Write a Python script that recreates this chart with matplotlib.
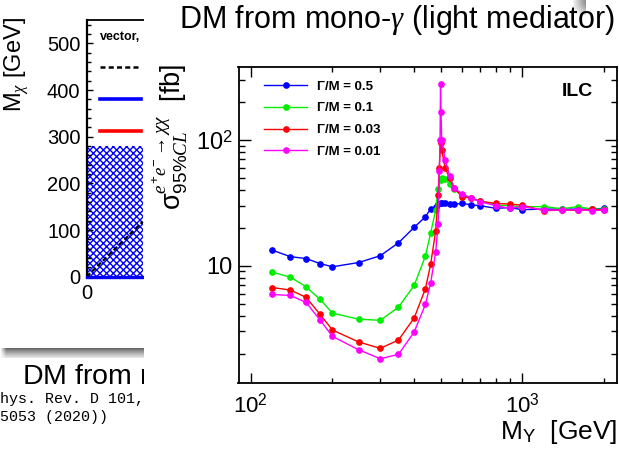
import numpy as np
import matplotlib
matplotlib.use("Agg")
import matplotlib.pyplot as plt
from matplotlib.patches import Rectangle
from matplotlib.lines import Line2D
from matplotlib.ticker import FixedLocator, FixedFormatter, NullFormatter, MultipleLocator

plt.rcParams['font.family'] = ['Liberation Sans', 'DejaVu Sans']
plt.rcParams['mathtext.fontset'] = 'custom'
plt.rcParams['mathtext.rm'] = 'Liberation Sans'
plt.rcParams['mathtext.it'] = 'Liberation Serif:italic'
plt.rcParams['mathtext.bf'] = 'Liberation Sans:bold'
plt.rcParams['hatch.color'] = '#0000ff'
plt.rcParams['hatch.linewidth'] = 1.0

# ---- cross-section limits vs mediator mass (light mediator) ----
mass_common = [120, 140, 160, 180, 200, 250, 300, 350, 400, 440, 460, 480, 490,
               500, 505, 520, 540, 560, 600, 650, 700, 800, 900, 1000, 1200,
               1400, 1600, 1800, 2000]
sigma_w050 = [13.3, 11.8, 11.4, 10.4, 9.8, 10.6, 12.0, 15.2, 20.2, 24.5, 28.4,
              29.5, 30.9, 31.7, 31.7, 31.7, 30.8, 30.8, 31.3, 30.5, 30.0, 28.6,
              29.0, 27.9, 28.2, 28.2, 28.2, 28.2, 28.6]
sigma_w010 = [8.9, 8.1, 6.8, 5.4, 4.2, 3.75, 3.68, 4.67, 6.98, 11.95, 18.3,
              27.7, 41.0, 48.0, 49.6, 49.0, 45.0, 40.5, 36.5, 34.5, 33.0, 30.4,
              29.9, 29.5, 29.5, 28.4, 29.5, 28.2, 28.2]
mass_w003 = [120, 140, 160, 180, 200, 250, 300, 350, 400, 440, 460, 480, 490,
             495, 500, 505, 520, 540, 560, 600, 650, 700, 800, 900, 1000, 1200,
             1400, 1600, 1800, 2000]
sigma_w003 = [6.7, 6.4, 5.6, 4.1, 3.08, 2.47, 2.2, 2.56, 3.84, 6.56, 10.3, 19.0,
              36.5, 60.0, 94.0, 83.0, 60.0, 49.6, 41.5, 35.4, 34.4, 32.5, 31.3,
              30.9, 30.3, 27.4, 27.7, 27.6, 28.1, 27.7]
mass_w001 = [120, 140, 160, 180, 200, 250, 300, 350, 400, 440, 460, 480, 490,
             495, 498, 500, 502, 505, 520, 540, 560, 600, 650, 700, 800, 900,
             1000, 1200, 1400, 1600, 1800, 2000]
sigma_w001 = [5.9, 5.8, 5.1, 3.7, 2.74, 2.14, 1.82, 1.97, 2.97, 4.93, 7.3, 12.9,
              21.6, 57.0, 100.0, 280.0, 168.0, 100.0, 69.0, 52.0, 41.5, 37.5,
              34.4, 32.3, 30.0, 28.6, 29.5, 27.7, 27.7, 27.9, 27.4, 27.7]
width_labels = ['Γ/M = 0.5', 'Γ/M = 0.1', 'Γ/M = 0.03', 'Γ/M = 0.01']
series_colors = ['#0000ff', '#00ee00', '#ff0000', '#ff00ff']

# ---- mass-plane panel (vector mediator) ----
excl_mass = [0, 236]
excl_mchi = [280, 280]
kin_mass = [0, 236]
kin_mchi = [0, 118]
low_mass = [0, 236]
low_mchi = [0, 0]

W, H = 619, 451
fig = plt.figure(figsize=(W / 100, H / 100), dpi=100)
fig.patch.set_facecolor('white')


def rect(x0, y0, x1, y1):
    return [x0 / W, 1 - y1 / H, (x1 - x0) / W, (y1 - y0) / H]


# ================= left panel (partly covered) =================
axl = fig.add_axes(rect(86.7, 20, 330, 276.7))
axl.set_zorder(0)
axl.fill_between(excl_mass, 0, excl_mchi, facecolor='white', edgecolor='#0000ff',
                 hatch='xxxxx', linewidth=0, zorder=1)
axl.plot(low_mass, low_mchi, color='#ff0000', lw=2.2, zorder=2,
         solid_capstyle='projecting', clip_on=False)
axl.plot(low_mass, low_mchi, color='#0000ff', lw=2.4, zorder=3, clip_on=False)
axl.plot(kin_mass, kin_mchi, color='black', lw=1.6, ls=(0, (2.2, 1.2)), zorder=4)
axl.set_xlim(0, 1025)
axl.set_ylim(0, 550)
axl.set_xticks([0])
axl.yaxis.set_major_locator(MultipleLocator(100))
axl.yaxis.set_minor_locator(MultipleLocator(20))
axl.tick_params(axis='y', which='both', direction='in', labelsize=14.5, pad=4.5)
axl.tick_params(axis='y', which='major', length=4.5, width=1.0)
axl.tick_params(axis='y', which='minor', length=3, width=1.0)
axl.tick_params(axis='x', length=0, labelsize=14.5, pad=5)
axl.spines['right'].set_visible(False)
axl.spines['left'].set_linewidth(1.6)
axl.spines['top'].set_linewidth(1.3)
axl.spines['bottom'].set_linewidth(1.0)
axl.set_ylabel('M$_{\\chi}$ [GeV]', fontsize=17)
axl.yaxis.set_label_coords((31 - 86.7) / (330 - 86.7), (276.7 - 65) / (276.7 - 20))

lh = [Line2D([], [], color='black', lw=1.8, ls=(0, (2.0, 1.3))),
      Line2D([], [], color='#0000ff', lw=2.6),
      Line2D([], [], color='#ff0000', lw=2.6)]
legl = axl.legend(lh, ['', '', ''], title='vector,',
                  loc='upper left', bbox_to_anchor=(100 / W, 1 - 31 / H),
                  bbox_transform=fig.transFigure, frameon=False, fontsize=9,
                  handlelength=3.3, labelspacing=1.58, borderpad=0,
                  borderaxespad=0, alignment='left',
                  title_fontproperties={'weight': 'bold', 'size': 9})

# bottom-left caption pieces (under the cover panel)
shadow = np.linspace(0, 1, 40)[:, None] * np.ones((1, 200))
shade = 0.36 + 0.55 * shadow ** 0.8
edge = np.clip(np.linspace(0, 1, 200) / 0.04, 0, 1)[None, :]
shade = 1 - (1 - shade) * edge
axs = fig.add_axes(rect(0, 348, 150, 358))
axs.imshow(shade, cmap='gray', vmin=0, vmax=1, aspect='auto',
           interpolation='bilinear')
axs.set_axis_off()
axs.set_zorder(0)

fig.text(22 / W, 1 - 377 / H, 'DM from mono-$\\gamma$', fontsize=20.5,
         ha='left', va='center', zorder=0.5)
fig.text(-18 / W, 1 - 399 / H, '(Phys. Rev. D 101,', family='Liberation Mono',
         fontsize=10.8, ha='left', va='center', zorder=0.5)
fig.text(-18 / W, 1 - 417 / H, '075053 (2020))', family='Liberation Mono',
         fontsize=10.8, ha='left', va='center', zorder=0.5)

# cover panel for the main figure
fig.patches.append(Rectangle((144 / W, 0), 1 - 144 / W, 1, transform=fig.transFigure,
                             facecolor='white', edgecolor='none', zorder=1))

# small gray shadow at the top
g = np.linspace(0.95, 0.55, 30)[None, :] * np.ones((30, 1))
fade = np.linspace(0, 1, 30)[:, None] ** 2
g = g + (1 - g) * fade
axg = fig.add_axes(rect(573, 0, 586, 16))
axg.imshow(g, cmap='gray', vmin=0, vmax=1, aspect='auto', interpolation='bilinear')
axg.set_axis_off()
axg.set_zorder(1.5)

# ================= main panel =================
ax = fig.add_axes(rect(238.5, 66.7, 617, 383))
ax.set_zorder(2)
ax.set_xscale('log')
ax.set_yscale('log')
datasets = [(mass_common, sigma_w050), (mass_common, sigma_w010),
            (mass_w003, sigma_w003), (mass_w001, sigma_w001)]
for (mx, sy), lab, col in zip(datasets, width_labels, series_colors):
    ax.plot(mx, sy, color=col, lw=1.0, marker='o', ms=3.8, mec=col, mfc=col,
            label=lab)
ax.set_xlim(90.2, 2232)
ax.set_ylim(1.166, 383)
ax.xaxis.set_major_locator(FixedLocator([100, 1000]))
ax.xaxis.set_major_formatter(FixedFormatter(['$10^{2}$', '$10^{3}$']))
ax.xaxis.set_minor_locator(FixedLocator([200, 300, 400, 500, 600, 700, 800, 900, 2000]))
ax.xaxis.set_minor_formatter(NullFormatter())
ax.yaxis.set_major_locator(FixedLocator([10, 100]))
ax.yaxis.set_major_formatter(FixedFormatter(['10', '$10^{2}$']))
ax.yaxis.set_minor_locator(FixedLocator([2, 3, 4, 5, 6, 7, 8, 9, 20, 30, 40, 50,
                                         60, 70, 80, 90, 200, 300]))
ax.yaxis.set_minor_formatter(NullFormatter())
ax.tick_params(which='both', direction='in', top=True, right=True, width=1.0)
ax.tick_params(axis='x', which='major', length=7.5, labelsize=16, pad=7)
ax.tick_params(axis='x', which='minor', length=3.8)
ax.tick_params(axis='y', which='major', length=8.5, labelsize=17, pad=4)
ax.tick_params(axis='y', which='minor', length=4.3)
for s in ax.spines.values():
    s.set_linewidth(1.3)

ax.set_xlabel('M$_{\\mathrm{Y}}$  [GeV]', fontsize=19, loc='right')
ax.xaxis.set_label_coords(1.0, (383 - 418) / (383 - 66.7))
ax.set_ylabel('$\\mathrm{\\sigma}^{e^{+}e^{-}\\rightarrow\\chi\\chi}_{95\\%CL}$  [fb]',
              fontsize=19.5)
ax.yaxis.set_label_coords((190 - 238.5) / (617 - 238.5), (383 - 137) / (383 - 66.7))

ax.legend(loc='upper left', bbox_to_anchor=(264 / W, 1 - 80.5 / H),
          bbox_transform=fig.transFigure, frameon=False, numpoints=1,
          prop={'family': 'Liberation Sans', 'weight': 'bold', 'size': 9.5},
          handlelength=3.26, handletextpad=0.76, labelspacing=0.72,
          borderpad=0, borderaxespad=0)
ax.text(577 / W, 1 - 92 / H, 'ILC', transform=fig.transFigure, fontsize=14,
        fontweight='bold', ha='center', va='center')

fig.text(397 / W, 1 - 20 / H, 'DM from mono-$\\gamma$ (light mediator)', fontsize=22,
         ha='center', va='center', zorder=3)

fig.savefig('out.png', dpi=100)
